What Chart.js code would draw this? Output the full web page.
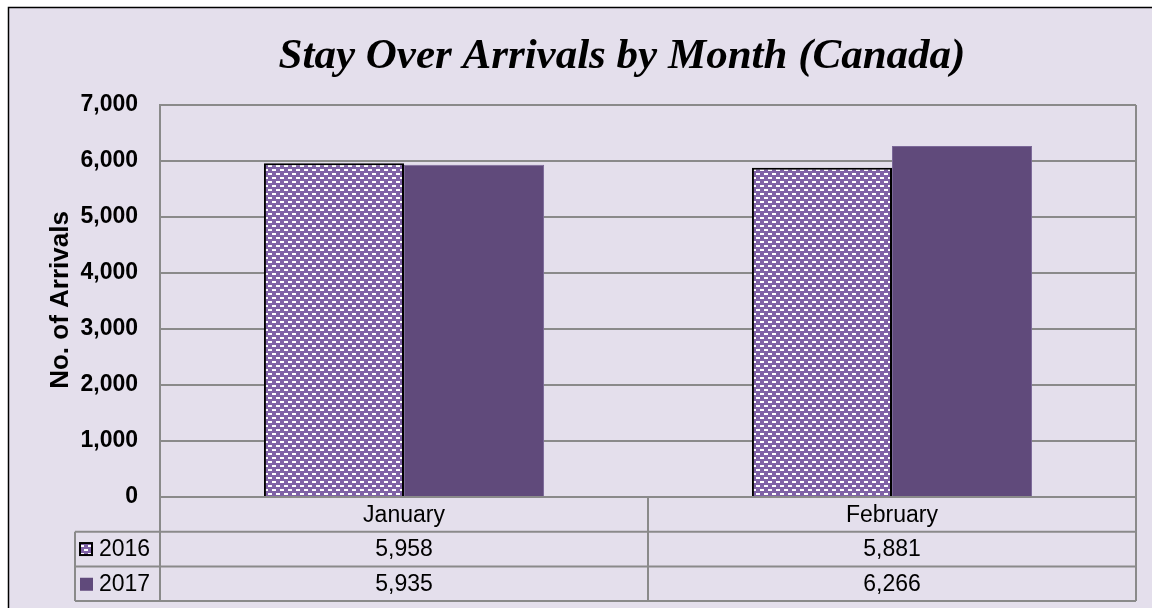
<!DOCTYPE html>
<html>
<head>
<meta charset="utf-8">
<script src="https://cdn.jsdelivr.net/npm/chart.js@4/dist/chart.umd.min.js"></script>
<style>
    html, body { margin: 0; padding: 0; background: #ffffff; }
    #wrap { width: 1152px; height: 608px; position: relative; }
</style>
</head>
<body>
<div id="wrap"><canvas id="chart" width="1152" height="608"></canvas></div>
<script>
// 데이터
const months = ['January', 'February'];
const seriesNames = ['2016', '2017'];
const values2016 = [5958, 5881];
const values2017 = [5935, 6266];
const yTicks = [0, 1000, 2000, 3000, 4000, 5000, 6000, 7000];
const chartTitle = 'Stay Over Arrivals by Month (Canada)';
const yTitle = 'No. of Arrivals';

const BG = '#e4dfec';
const GRID = '#8a8a8a';
const FONT = "'Liberation Sans', Arial, sans-serif";

// 2016 막대 무늬 (보라 바탕 + 흰 점선)
function makePattern() {
    const c = document.createElement('canvas');
    c.width = 8;
    c.height = 8;
    const g = c.getContext('2d');
    g.fillStyle = '#7f62a6';
    g.fillRect(0, 0, 8, 8);
    g.fillStyle = '#ffffff';
    g.fillRect(0, 1, 4, 2);
    g.fillRect(4, 5, 4, 2);
    return c;
}
const patternCanvas = makePattern();
const ctx = document.getElementById('chart').getContext('2d');
const pattern2016 = ctx.createPattern(patternCanvas, 'repeat');
const color2017 = '#604a7b';

function fmt(v) {
    return Number(v).toLocaleString('en-US');
}

// 배경, 제목, 축 제목, 데이터 표
const decorPlugin = {
    id: 'decor',
    beforeDraw(chart) {
        const c = chart.ctx;
        c.save();
        c.fillStyle = '#ffffff';
        c.fillRect(0, 0, chart.width, chart.height);
        c.fillStyle = BG;
        c.fillRect(8, 8, chart.width - 8, chart.height - 8);
        c.strokeStyle = '#000000';
        c.lineWidth = 1.5;
        c.beginPath();
        c.moveTo(8.5, chart.height);
        c.lineTo(8.5, 7.5);
        c.lineTo(chart.width, 7.5);
        c.stroke();
        c.restore();
    },
    afterDraw(chart) {
        const c = chart.ctx;
        const area = chart.chartArea;
        const xs = chart.scales.x;
        c.save();

        // 제목
        c.fillStyle = '#000000';
        c.font = "italic bold 43px 'Liberation Serif', 'Times New Roman', serif";
        c.textAlign = 'center';
        c.textBaseline = 'alphabetic';
        c.fillText(chartTitle, 622, 68);

        // y축 제목
        c.save();
        c.translate(61, 300);
        c.rotate(-Math.PI / 2);
        c.font = 'bold 26px ' + FONT;
        c.textBaseline = 'middle';
        c.fillText(yTitle, 0, 0);
        c.restore();

        // 데이터 표
        const rowH = 34.7;
        const top = area.bottom;
        const legendLeft = 75;
        const mid = (xs.getPixelForValue(0) + xs.getPixelForValue(1)) / 2;
        c.strokeStyle = GRID;
        c.lineWidth = 2;
        c.beginPath();
        for (let i = 1; i <= 3; i++) {
            c.moveTo(legendLeft, top + rowH * i);
            c.lineTo(area.right, top + rowH * i);
        }
        c.moveTo(legendLeft, top + rowH);
        c.lineTo(legendLeft, top + rowH * 3);
        c.moveTo(area.left, top);
        c.lineTo(area.left, top + rowH * 3);
        c.moveTo(mid, top);
        c.lineTo(mid, top + rowH * 3);
        c.moveTo(area.right, area.top);
        c.lineTo(area.right, top + rowH * 3);
        c.stroke();

        c.fillStyle = '#000000';
        c.font = '23px ' + FONT;
        c.textAlign = 'center';
        c.textBaseline = 'middle';
        const rows = [values2016, values2017];
        months.forEach(function (m, i) {
            const cx = xs.getPixelForValue(i);
            c.fillText(m, cx, top + rowH * 0.5 + 1);
            rows.forEach(function (vals, r) {
                c.fillText(fmt(vals[i]), cx, top + rowH * (r + 1.5) + 1);
            });
        });

        // 범례 칸
        c.textAlign = 'left';
        seriesNames.forEach(function (name, r) {
            const cy = top + rowH * (r + 1.5);
            if (r === 0) {
                c.fillStyle = pattern2016;
                c.fillRect(80, cy - 6, 12, 12);
                c.strokeStyle = '#000000';
                c.lineWidth = 2;
                c.strokeRect(80, cy - 6, 12, 12);
            } else {
                c.fillStyle = color2017;
                c.fillRect(80, cy - 6, 13, 13);
            }
            c.fillStyle = '#000000';
            c.fillText(name, 99, cy + 1);
        });
        c.restore();
    }
};

new Chart(ctx, {
    type: 'bar',
    data: {
        labels: months,
        datasets: [{
            label: seriesNames[0],
            data: values2016,
            backgroundColor: pattern2016,
            borderColor: '#000000',
            borderWidth: 2
        }, {
            label: seriesNames[1],
            data: values2017,
            backgroundColor: color2017,
            borderColor: '#7b6898',
            borderWidth: 1
        }]
    },
    options: {
        responsive: false,
        animation: false,
        layout: {
            padding: { top: 105, left: 8, right: 16, bottom: 111 }
        },
        datasets: {
            bar: { categoryPercentage: 0.574, barPercentage: 1 }
        },
        plugins: {
            legend: { display: false },
            title: { display: false },
            tooltip: { enabled: false }
        },
        scales: {
            x: {
                display: false
            },
            y: {
                min: 0,
                max: 7000,
                afterFit: function (scale) { scale.width = 152; },
                afterBuildTicks: function (scale) {
                    scale.ticks = yTicks.map(v => ({ value: v }));
                },
                grid: { color: GRID, lineWidth: 2, drawTicks: false },
                border: { color: GRID, width: 2 },
                ticks: {
                    padding: 22,
                    color: '#000000',
                    font: { family: FONT, size: 23, weight: 'bold' },
                    callback: v => fmt(v)
                }
            }
        }
    },
    plugins: [decorPlugin]
});
</script>
</body>
</html>
